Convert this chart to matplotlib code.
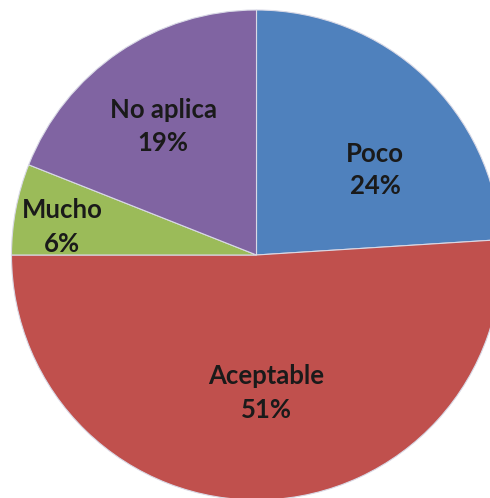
import matplotlib
matplotlib.use("Agg")
import matplotlib.pyplot as plt
import numpy as np

categories = ["Poco", "Aceptable", "Mucho", "No aplica"]
values = [24, 51, 6, 19]
colors = ["#4F81BD", "#C0504D", "#9BBB59", "#8064A2"]

W, H = 490, 498
R = 245.0
cx, cy = 256.5, 255.0
# label centres in pixels (layout only)
label_px = [(375, 170), (266, 393), (62, 227), (163, 126)]

fig = plt.figure(figsize=(W / 100, H / 100), dpi=100)
ax = fig.add_axes([0, 0, 1, 1])
ax.set_aspect("equal")
ax.axis("off")

wedges, _ = ax.pie(values, colors=colors, startangle=90, counterclock=False,
                   radius=1.0, center=(0, 0),
                   wedgeprops=dict(edgecolor="#d9d9e6", linewidth=0.8))
ax.set_xlim(-cx / R, (W - cx) / R)
ax.set_ylim(-(H - cy) / R, cy / R)

for cat, v, (px, py) in zip(categories, values, label_px):
    x, y = (px - cx) / R, (cy - py) / R
    ax.text(x, y, f"{cat}\n{v}%", ha="center", va="center", fontsize=18.5,
            fontweight="bold", color="#1a1a1a", family="Lato",
            linespacing=1.45)

fig.savefig("out.png", dpi=100)
